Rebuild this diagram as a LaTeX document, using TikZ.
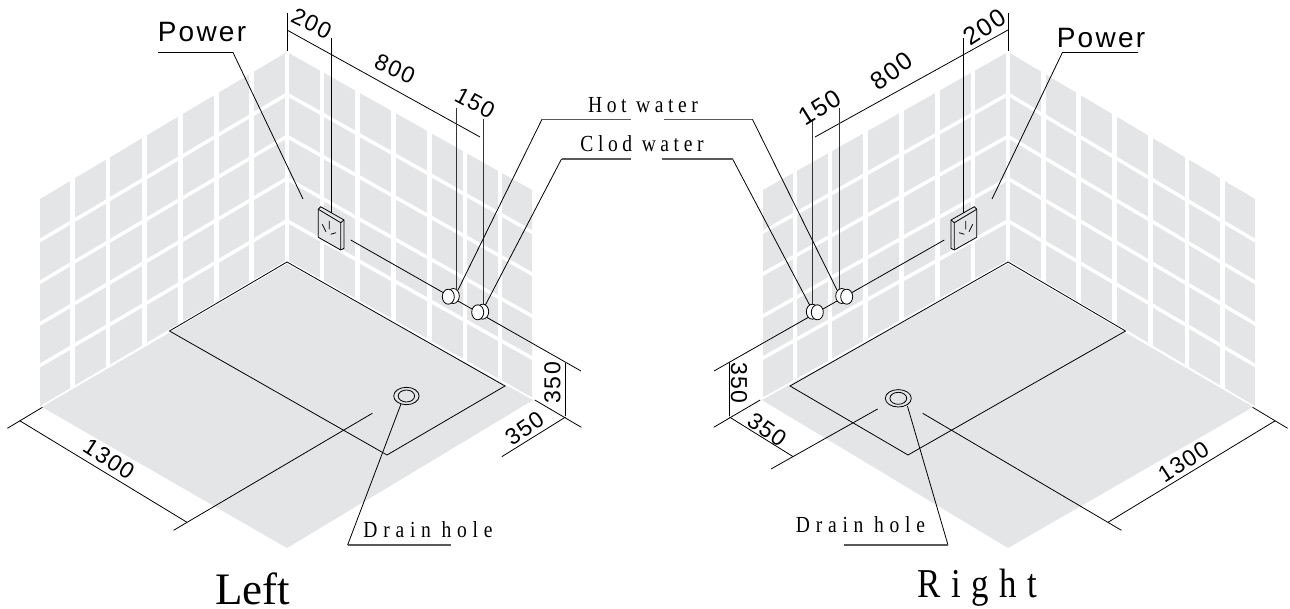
\documentclass[tikz,border=0pt]{standalone}
\usepackage{fontspec}
\setmainfont{Liberation Sans}
\newfontfamily\widefont[FakeStretch=0.85,LetterSpace=20]{Liberation Serif}
\newfontfamily\titlefont{Liberation Serif}
\newfontfamily\dimfont[LetterSpace=6]{Liberation Sans}
\newfontfamily\powerfont[LetterSpace=8]{Liberation Sans}
\definecolor{wallgrey}{HTML}{E4E5E7}
\tikzset{
  tilegap/.style={white,line width=4.5pt},
  rowgap/.style={white,line width=3.5pt,shorten >=-3pt},
  thin line/.style={black,line width=0.8pt},
  grey line/.style={black!65,line width=1.4pt},
  mid line/.style={black!80,line width=1pt},
  dimtext/.style={font=\dimfont\fontsize{23}{23}\selectfont,inner sep=0pt},
  dimbig/.style={font=\dimfont\fontsize{25}{25}\selectfont,inner sep=0pt},
  calltext/.style={font=\widefont\fontsize{23}{23}\selectfont,inner sep=0pt},
  drainname/.style={font=\widefont\addfontfeature{LetterSpace=25}\fontsize{23}{23}\selectfont,inner sep=0pt},
  powertext/.style={font=\powerfont\fontsize{28}{28}\selectfont,inner sep=0pt}
}
\begin{document}
\begin{tikzpicture}[x=1pt,y=-1pt]
  \useasboundingbox (0,0) rectangle (1290,609);
  % the two rooms are mirror images
  \foreach \side/\xs/\xo in {L/1/0,R/-1/1295}{
  \begin{scope}[xshift=\xo pt,xscale=\xs]
    \fill[wallgrey] (287,52) -- (40,199) -- (40,407) -- (287,262) -- (532,400) -- (532,190) -- cycle;
    \foreach \x in {72.5,108,144.5,180.5,216.5,251.5,287,322,357.5,393.5,429.5,465,500}
      \draw[tilegap] (\x,40) -- (\x,420);
    \foreach \i in {1,2,3,4}{
      \draw[rowgap] (287,52+42.2*\i) -- (40,199+41.6*\i);
      \draw[rowgap] (287,52+42.2*\i) -- (532,190+42*\i);
    }
    \draw[white,line width=3.5pt,fill=wallgrey] (42,407) -- (287,262) -- (533,400) -- (287,548) -- cycle;
    \fill[wallgrey] (42,407) -- (287,548) -- (533,400) -- (287,264) -- cycle;
    \draw[thin line] (287,262) -- (169.5,331) -- (387,455) -- (505,386) -- cycle;
    % socket
    \draw[thin line,fill=wallgrey] (318.3,209.3) -- (320.7,206.7) -- (344,220) -- (344,248.3) -- (340.7,250) -- (318.3,237.3) -- cycle;
    \draw[thin line] (318.3,209.3) -- (340.7,222.7) -- (340.7,250) (340.7,222.7) -- (344,220);
    \draw[thin line] (329.3,221) -- (329.3,229.3) (322.3,224.3) -- (326,231.7) (330.7,234.3) -- (336,232.7);
    % pipe line and valves
    \draw[thin line] (350.7,240) -- (581,371);
    \draw[thin line,fill=white] (453.3,296) ellipse (6 and 7.5);
    \draw[thin line,fill=white] (448.3,296.7) ellipse (6 and 7.5);
    \draw[thin line,fill=white] (482.7,311.7) ellipse (6 and 7.5);
    \draw[thin line,fill=white] (477.7,312.3) ellipse (6 and 7.5);
    \coordinate (hot\side) at (458,290);
    \coordinate (cold\side) at (485.4,305);
    \coordinate (pow\side) at (303,199);
    % dimensions on the wall
    \draw[thin line] (287,13) -- (287,51);
    \draw[thin line] (287,30) -- (480,137);
    \draw[thin line] (331.5,38) -- (331.5,213);
    \draw[mid line] (456,108) -- (456,290);
    \draw[mid line] (483,119) -- (483,305);
    % dimensions on the floor
    \draw[thin line] (7.4,428.3) -- (42.4,407.3);
    \draw[thin line] (19.7,420.7) -- (187,522.3);
    \draw[thin line] (173.6,530.3) -- (372.3,413.3);
    \draw[thin line] (534.8,400) -- (581.3,427.3);
    \draw[thin line] (565.6,363.3) -- (565.6,416);
    \draw[thin line] (565.6,417) -- (501.8,456.7);
  \end{scope}
  }
  \draw[thin line] (771,469) -- (877.6,409);
  % drains
  \draw[thin line] (406.4,396) ellipse (12.7 and 8.7);
  \draw[thin line] (406.4,396) ellipse (8.2 and 6);
  \draw[thin line] (898.3,398.3) ellipse (13 and 8.7);
  \draw[thin line] (898.3,398.3) ellipse (8.4 and 6);
  \coordinate (drainL) at (401,404);
  \coordinate (drainR) at (907.4,406);

  \node[powertext] (powerL) at (202,32) {Power};
  \node[powertext] (powerR) at (1101,38) {Power};
  \draw[thin line] (158,52.5) -- (233,52.5) -- (powL);
  \draw[thin line] (1138,52.5) -- (1062.4,52.5) -- (powR);

  \node[dimtext,rotate=-26] (l200) at (311.7,23.7) {200};
  \node[dimtext,rotate=-24] (l800) at (395,69) {800};
  \node[dimtext,rotate=-28] (l150) at (475,103) {150};
  \node[dimtext,rotate=-33] (l1300) at (109,459) {1300};
  \node[dimtext,rotate=90] (l350a) at (552.5,382.7) {350};
  \node[dimtext,rotate=35] (l350b) at (524.5,428) {350};
  \node[dimbig,rotate=33] (r200) at (984.7,27.3) {200};
  \node[dimbig,rotate=36] (r800) at (892,71) {800};
  \node[dimbig,rotate=32] (r150) at (819.4,107.3) {150};
  \node[dimtext,rotate=33] (r1300) at (1183.4,462) {1300};
  \node[dimtext,rotate=-90] (r350a) at (739,383) {350};
  \node[dimtext,rotate=-35] (r350b) at (767,430) {350};

  \node[calltext] (hotname) at (643,105) {Hot water};
  \node[calltext] (coldname) at (642,144) {Clod water};
  \draw[thin line] (542,119.3) -- (hotL);
  \draw[thin line] (561.5,159) -- (coldL);
  \draw[thin line] (752.4,119.3) -- (hotR);
  \draw[thin line] (732.6,159) -- (coldR);
  \draw[grey line] (630.6,119.3) -- (542,119.3);
  \draw[grey line] (631.4,159) -- (561.5,159);
  \draw[grey line] (663.6,119.3) -- (752.4,119.3);
  \draw[grey line] (662,159) -- (732.6,159);

  \node[drainname] (drainnameL) at (428,530) {Drain hole};
  \node[drainname] (drainnameR) at (860.5,525) {Drain hole};
  \draw[thin line] (347.6,545) -- (drainL);
  \draw[thin line] (948,545) -- (drainR);
  \draw[grey line] (450.8,545) -- (347.6,545);
  \draw[grey line] (844,545) -- (948,545);

  \node[font=\titlefont\fontsize{45}{45}\selectfont,inner sep=0pt,anchor=base] (leftname) at (252.5,604) {Left};
  \node[font=\widefont\addfontfeature{LetterSpace=26}\fontsize{41}{41}\selectfont,inner sep=0pt,anchor=base] (rightname) at (977.5,597) {Right};
\end{tikzpicture}
\end{document}
